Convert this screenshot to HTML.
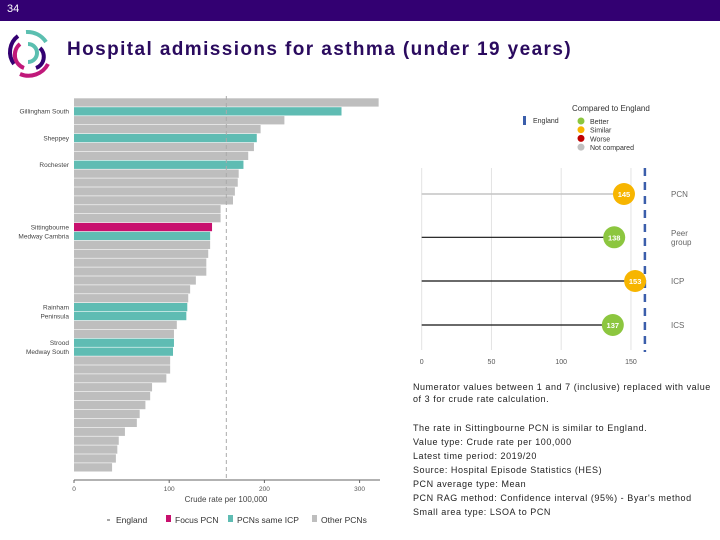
<!DOCTYPE html>
<html><head><meta charset="utf-8"><style>
body{margin:0;width:720px;height:540px;overflow:hidden;background:#fff;font-family:"Liberation Sans",sans-serif}
#hdr{position:absolute;left:0;top:0;width:720px;height:21px;background:#330072;color:#fff;font-size:11px}
#hdr span{position:absolute;left:7px;top:3px}
#title{position:absolute;left:67px;top:39px;font-size:19px;font-weight:bold;color:#2a0a5e;letter-spacing:1.4px}
.notes{position:absolute;left:413px;font-size:9px;color:#222;line-height:14px;letter-spacing:0.55px}
svg{position:absolute;left:0;top:0}
</style></head><body>
<div id="hdr"><span>34</span></div>
<svg width="60" height="80" style="left:0;top:20px">
<path d="M18 16 A20 20 0 0 0 14 44" stroke="#330072" stroke-width="4" fill="none"/>
<path d="M26 12 A22 22 0 0 1 46 22" stroke="#5bbfb0" stroke-width="4" fill="none"/>
<path d="M20 24 A14 14 0 0 0 24 48" stroke="#c0187a" stroke-width="4" fill="none"/>
<path d="M28 24 A8 8 0 1 1 28 42" stroke="#5bbfb0" stroke-width="4" fill="none"/>
<path d="M40 28 A12 12 0 0 1 36 48" stroke="#330072" stroke-width="4" fill="none"/>
<path d="M20 54 A22 22 0 0 0 48 44" stroke="#c0187a" stroke-width="4" fill="none"/>
</svg>
<div id="title">Hospital admissions for asthma (under 19 years)</div>
<svg id="bars" width="400" height="540"></svg>
<svg id="loll" width="720" height="540" style="pointer-events:none"></svg>
<div class="notes" style="top:381px;line-height:12px">Numerator values between 1 and 7 (inclusive) replaced with value<br>of 3 for crude rate calculation.</div>
<div class="notes" style="top:421px">The rate in Sittingbourne PCN is similar to England.<br>Value type: Crude rate per 100,000<br>Latest time period: 2019/20<br>Source: Hospital Episode Statistics (HES)<br>PCN average type: Mean<br>PCN RAG method: Confidence interval (95%) - Byar's method<br>Small area type: LSOA to PCN</div>
<script>
const barValues=[320,281,221,196,192,189,183,178,173,172,169,167,154,154,145,143,143,141,139,139,128,122,120,119,118,108,105,105,104,101,101,97,82,80,75,69,66,53.5,47,45.5,44,40];
const barGroups=['o','s','o','o','s','o','o','s','o','o','o','o','o','o','f','s','o','o','o','o','o','o','o','s','s','o','o','s','s','o','o','o','o','o','o','o','o','o','o','o','o','o'];
const barLabels={1:'Gillingham South',4:'Sheppey',7:'Rochester',14:'Sittingbourne',15:'Medway Cambria',23:'Rainham',24:'Peninsula',27:'Strood',28:'Medway South'};
const englandValue=160;
const xTicks=[0,100,200,300];
const NS='http://www.w3.org/2000/svg';
function mk(p,t,a){const e=document.createElementNS(NS,t);for(const k in a)e.setAttribute(k,a[k]);p.appendChild(e);return e;}
const sb=document.getElementById('bars');
const x0=74,sx=0.952,yTop=98.3,pitch=8.9,bh=8.3;
const X=v=>x0+v*sx, Y=i=>yTop+i*pitch;
const col={o:'#bebebe',s:'#5fbcb3',f:'#c8106e'};
barValues.forEach((v,i)=>{
 const r=mk(sb,'rect',{x:x0,y:Y(i),width:v*sx,height:bh,fill:col[barGroups[i]]});
 
 
 if(barLabels[i]){const t=mk(sb,'text',{x:69,y:Y(i)+6.5,'text-anchor':'end','font-size':6.5,fill:'#444'});t.textContent=barLabels[i];
 
 }
});
const el=mk(sb,'line',{x1:X(englandValue),x2:X(englandValue),y1:96,y2:480,stroke:'#aaa','stroke-dasharray':'4 3','stroke-width':1});


mk(sb,'line',{x1:x0,x2:380,y1:480,y2:480,stroke:'#666','stroke-width':1});
xTicks.forEach(v=>{mk(sb,'line',{x1:X(v),x2:X(v),y1:480,y2:483,stroke:'#666'});
 const t=mk(sb,'text',{x:X(v),y:491,'text-anchor':'middle','font-size':6.5,fill:'#555'});t.textContent=v;
 
 });
const at=mk(sb,'text',{x:226,y:502,'text-anchor':'middle','font-size':8,fill:'#444'});at.textContent='Crude rate per 100,000';


const lg=[['–','England',115,null],['','Focus PCN',174,'#c8106e'],['','PCNs same ICP',236,'#5fbcb3'],['','Other PCNs',320,'#bebebe']];
lg.forEach(l=>{
 if(l[3]){mk(sb,'rect',{x:l[2]-8,y:515,width:5,height:7,fill:l[3]});}
 else{mk(sb,'line',{x1:l[2]-8,x2:l[2]-5,y1:520,y2:520,stroke:'#888','stroke-width':1.5});}
 const t=mk(sb,'text',{x:l[2]+1,y:523,'font-size':8.5,fill:'#333'});t.textContent=l[1];
 
 
});
const lolCats=['PCN','Peer group','ICP','ICS'];
const lolValues=[145,138,153,137];
const lolStatus=['similar','better','similar','better'];
const lolTicks=[0,50,100,150];
const sl=document.getElementById('loll');
const lx0=421.7,lsx=1.395,LX=v=>lx0+v*lsx;
const rowY=[194,237.3,281,325];
const stCol={better:'#8cc63f',similar:'#f7b500',worse:'#c00000',none:'#c0c0c0'};
lolTicks.forEach(v=>{mk(sl,'line',{x1:LX(v),x2:LX(v),y1:168,y2:350,stroke:'#e3e3e3','stroke-width':1});
 const t=mk(sl,'text',{x:LX(v),y:364,'text-anchor':'middle','font-size':7,fill:'#555'});t.textContent=v;
 
 });
const ed=mk(sl,'line',{x1:LX(englandValue),x2:LX(englandValue),y1:168,y2:352,stroke:'#3b5eab','stroke-width':2.5,'stroke-dasharray':'8 6'});


lolValues.forEach((v,i)=>{
 const y=rowY[i];
 mk(sl,'line',{x1:lx0,x2:LX(v),y1:y,y2:y,stroke:i==0?'#c4c4c4':'#111','stroke-width':i==0?1.6:1.2});
 const c=mk(sl,'circle',{cx:LX(v),cy:y,r:11,fill:stCol[lolStatus[i]]});
 
 
 const t=mk(sl,'text',{x:LX(v),y:y+3,'text-anchor':'middle','font-size':7.5,'font-weight':'bold',fill:'#fff'});t.textContent=v;
 const parts=lolCats[i].split(' ');
 parts.forEach((p,j)=>{const lt=mk(sl,'text',{x:671,y:y+3-(parts.length-1)*4.5+j*9,'font-size':8,fill:'#666'});lt.textContent=p;
 
 });
});
mk(sl,'rect',{x:523,y:116,width:3,height:9,fill:'#3b5eab'});
const tt=[['England',533,123,'#333',7],['Compared to England',572,111,'#333',8]];
tt.forEach(a=>{const t=mk(sl,'text',{x:a[1],y:a[2],'font-size':a[4],fill:a[3]});t.textContent=a[0];
 
 });
[['Better','better'],['Similar','similar'],['Worse','worse'],['Not compared','none']].forEach((s,j)=>{
 mk(sl,'circle',{cx:581,cy:121+j*8.7,r:3.5,fill:stCol[s[1]]});
 const t=mk(sl,'text',{x:590,y:124+j*8.7,'font-size':7,fill:'#333'});t.textContent=s[0];
 
 
});
</script>
</body></html>
